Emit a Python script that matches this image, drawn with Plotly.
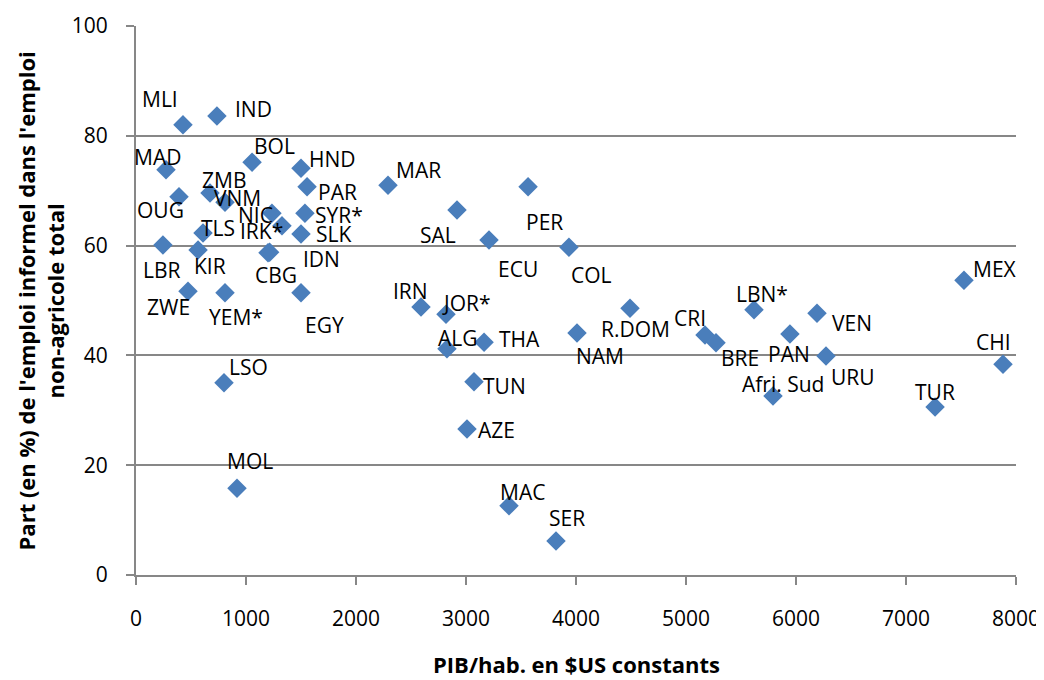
import plotly.graph_objects as go

# pays, PIB/hab. ($US constants), part de l'emploi informel (%)
countries = ["MLI", "IND", "MAD", "BOL", "HND", "PAR", "OUG", "ZMB", "VNM", "NIC",
             "IRK*", "SYR*", "SLK", "TLS", "LBR", "KIR", "CBG", "IDN", "ZWE", "YEM*",
             "EGY", "LSO", "MOL", "MAR", "SAL", "ECU", "PER", "COL", "IRN", "JOR*",
             "ALG", "THA", "R.DOM", "NAM", "TUN", "AZE", "MAC", "SER", "MEX", "CRI",
             "BRE", "LBN*", "PAN", "VEN", "URU", "Afri. Sud", "TUR", "CHI"]
gdp = [427, 736, 273, 1055, 1500, 1555, 391, 673, 809, 1236,
       1327, 1536, 1500, 609, 245, 564, 1200, 1215, 473, 809,
       1500, 800, 918, 2291, 2918, 3209, 3564, 3936, 2591, 2818,
       2827, 3164, 4491, 4009, 3073, 3009, 3391, 3818, 7527, 5173,
       5273, 5618, 5945, 6191, 6273, 5791, 7264, 7882]
informal = [82.0, 83.6, 73.8, 75.2, 74.1, 70.7, 68.9, 69.6, 67.9, 65.9,
            63.6, 65.9, 62.1, 62.3, 60.1, 59.2, 58.7, 58.8, 51.7, 51.4,
            51.4, 35.0, 15.8, 71.0, 66.5, 61.0, 70.7, 59.7, 48.8, 47.5,
            41.2, 42.4, 48.6, 44.1, 35.2, 26.6, 12.6, 6.2, 53.7, 43.7,
            42.3, 48.3, 43.9, 47.7, 39.9, 32.6, 30.6, 38.4]

# decalage des etiquettes (px, vers la droite / vers le bas)
label_dx = [-23, 37, -9, 22, 31, 30, -19, 14, 13, -16,
            -20, 34, 32, 15, -1, 12, 8, 52, -20, 11,
            23, 24, 13, 30, -19, 29, 16, 23, -11, 21,
            11, 35, 5, 23, 30, 30, 13, 11, 31, -15,
            24, 8, -1, 35, 27, 10, 0, -10]
label_dy = [-26, -7, -13, -16, -9, 5, 13, -13, -4, 2,
            5, 2, 0, -5, 25, 16, 22, 7, 16, 24,
            32, -16, -27, -15, 25, 29, 35, 28, -16, -11,
            -11, -3, 21, 23, 4, 1, -14, -23, -11, -17,
            15, -16, 20, 10, 21, -12, -15, -22]

FONT = "Open Sans, Lato, sans-serif"
GRAY = "#878787"

fig = go.Figure(go.Scatter(
    x=gdp, y=informal, mode="markers",
    marker=dict(symbol="diamond", size=15, color="#4a7ebb"),
    hovertext=countries, showlegend=False,
))

for c, x, y, dx, dy in zip(countries, gdp, informal, label_dx, label_dy):
    fig.add_annotation(x=x, y=y, text=c, showarrow=False,
                       xshift=dx, yshift=-dy,
                       font=dict(family=FONT, size=21, color="black"))

# titres des axes
fig.add_annotation(xref="paper", yref="paper", x=0.5, y=-0.162,
                   text="<b>PIB/hab. en $US constants</b>", showarrow=False,
                   xanchor="center", yanchor="middle",
                   font=dict(family=FONT, size=22, color="black"))
fig.add_annotation(xref="paper", yref="paper", x=-0.108, y=0.5,
                   text="<b>Part (en %) de l'emploi informel dans l'emploi<br>non-agricole total</b>",
                   showarrow=False, textangle=-90, xanchor="center", yanchor="middle",
                   font=dict(family=FONT, size=22, color="black"))

# the page body keeps its default 8px margin, so the figure is a bit smaller
fig.update_layout(
    width=1036, height=672,
    margin=dict(l=128, r=28, t=18, b=105),
    plot_bgcolor="white", paper_bgcolor="white",
    font=dict(family=FONT, size=21, color="black"),
    xaxis=dict(
        range=[0, 8000], dtick=1000, showgrid=False, zeroline=False,
        showline=True, linecolor=GRAY, linewidth=2, automargin=False,
        ticks="outside", ticklen=8, tickcolor=GRAY, tickwidth=2,
        ticklabelstandoff=16,
    ),
    yaxis=dict(
        range=[0, 100], dtick=20, showgrid=True, gridcolor=GRAY, gridwidth=2,
        zeroline=False, showline=True, linecolor=GRAY, linewidth=2, automargin=False,
        ticks="outside", ticklen=8, tickcolor=GRAY, tickwidth=2,
        ticklabelstandoff=14,
    ),
)

fig.write_html("out.html")
